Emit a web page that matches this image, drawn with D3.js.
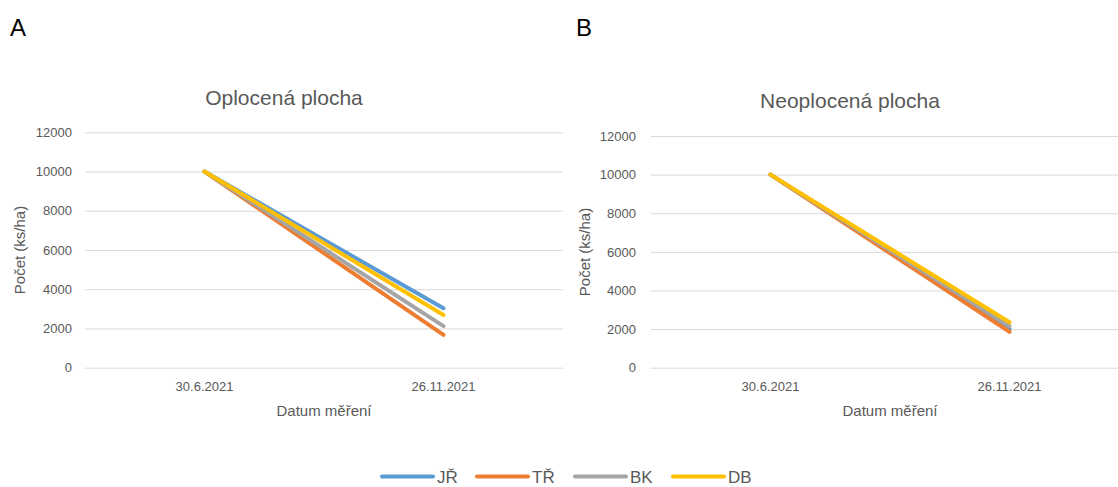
<!DOCTYPE html>
<html>
<head>
<meta charset="utf-8">
<script src="https://cdn.jsdelivr.net/npm/d3@7"></script>
<style>
  html, body { margin: 0; padding: 0; background: #ffffff; }
  svg { display: block; }
  text { font-family: "Liberation Sans", Arial, sans-serif; }
</style>
</head>
<body>
<svg id="chart" width="1118" height="487"></svg>
<script>
// ---- data ----
const categories = ["30.6.2021", "26.11.2021"];
const seriesNames = ["JŘ", "TŘ", "BK", "DB"];
const fencedValues = [
  [10000, 3030],
  [10000, 1670],
  [10000, 2120],
  [10000, 2690]
];
const unfencedValues = [
  [10000, 2000],
  [10000, 1860],
  [10000, 2150],
  [10000, 2350]
];
const yTicks = [0, 2000, 4000, 6000, 8000, 10000, 12000];
const panelTitles = ["Oplocená plocha", "Neoplocená plocha"];
const panelLetters = ["A", "B"];
const xAxisTitle = "Datum měření";
const yAxisTitle = "Počet (ks/ha)";

// ---- styles ----
const colors = ["#5B9BD5", "#ED7D31", "#A5A5A5", "#FFC000"];
const textColor = "#595959";
const gridColor = "#D9D9D9";

const svg = d3.select("#chart");

const panels = [
  { values: fencedValues, left: 85, right: 563, top: 132.3, bottom: 367.7,
    titleX: 284, titleY: 105, letterX: 10, tickX: 72, yTitleX: 25, yTitleY: 250, xTitleY: 416 },
  { values: unfencedValues, left: 651, right: 1129, top: 136, bottom: 367.7,
    titleX: 850, titleY: 108, letterX: 576, tickX: 636, yTitleX: 590, yTitleY: 252, xTitleY: 416 }
];

panels.forEach((p, pi) => {
  const g = svg.append("g");
  const x = d3.scaleBand().domain(categories).range([p.left, p.right]);
  const y = d3.scaleLinear().domain([0, 12000]).range([p.bottom, p.top]);

  // panel letter
  g.append("text")
    .attr("x", p.letterX).attr("y", 36)
    .attr("font-size", 24).attr("fill", "#000")
    .text(panelLetters[pi]);

  // title
  g.append("text")
    .attr("x", p.titleX).attr("y", p.titleY)
    .attr("text-anchor", "middle")
    .attr("font-size", 21).attr("fill", textColor)
    .text(panelTitles[pi]);

  // gridlines
  const yAxis = d3.axisLeft(y).tickValues(yTicks).tickSize(-(p.right - p.left)).tickPadding(13)
    .tickFormat(d3.format("d"));
  const ya = g.append("g").attr("transform", `translate(${p.left},0)`).call(yAxis);
  ya.select(".domain").remove();
  ya.selectAll(".tick line").attr("stroke", gridColor).attr("stroke-width", 1);
  ya.selectAll(".tick text")
    .attr("fill", textColor).attr("font-size", 13)
    .attr("font-family", "Liberation Sans, Arial, sans-serif")
    .attr("x", p.tickX - p.left);

  // x axis labels
  const xAxis = d3.axisBottom(x).tickSize(0).tickPadding(14);
  const xa = g.append("g").attr("transform", `translate(0,${p.bottom})`).call(xAxis);
  xa.select(".domain").remove();
  xa.selectAll(".tick text")
    .attr("fill", textColor).attr("font-size", 13)
    .attr("font-family", "Liberation Sans, Arial, sans-serif");

  // axis titles
  g.append("text")
    .attr("x", (p.left + p.right) / 2).attr("y", p.xTitleY)
    .attr("text-anchor", "middle")
    .attr("font-size", 15).attr("fill", textColor)
    .text(xAxisTitle);

  g.append("text")
    .attr("transform", `translate(${p.yTitleX},${p.yTitleY}) rotate(-90)`)
    .attr("text-anchor", "middle")
    .attr("font-size", 15).attr("fill", textColor)
    .text(yAxisTitle);

  // lines
  const line = d3.line()
    .x((d, i) => x(categories[i]) + x.bandwidth() / 2)
    .y(d => y(d));
  p.values.forEach((vals, si) => {
    g.append("path")
      .datum(vals)
      .attr("d", line)
      .attr("fill", "none")
      .attr("stroke", colors[si])
      .attr("stroke-width", 4)
      .attr("stroke-linecap", "round");
  });
});

// legend
const legendX = [382, 477, 575, 673];
const legend = svg.append("g");
seriesNames.forEach((name, i) => {
  legend.append("line")
    .attr("x1", legendX[i]).attr("x2", legendX[i] + 51)
    .attr("y1", 476.5).attr("y2", 476.5)
    .attr("stroke", colors[i]).attr("stroke-width", 4)
    .attr("stroke-linecap", "round");
  legend.append("text")
    .attr("x", legendX[i] + 55).attr("y", 483)
    .attr("font-size", 17).attr("fill", textColor)
    .text(name);
});
</script>
</body>
</html>
